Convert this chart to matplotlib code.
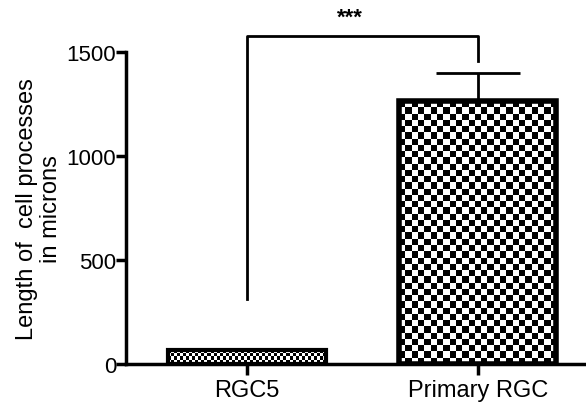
import numpy as np
import matplotlib
matplotlib.use("Agg")
import matplotlib.pyplot as plt

plt.rcParams["font.family"] = ["Liberation Sans", "DejaVu Sans"]

categories = ["RGC5", "Primary RGC"]
values = [68, 1264]
errors = [0, 135]
ylim_max = 1500
yticks = [0, 500, 1000, 1500]
# checkerboard cells per bar (columns, rows)
checker_cells = [(52, 4), (25, 42)]
sig_label = "***"
bracket_y = 1577
bracket_legs = [312, 1457]

fig = plt.figure(figsize=(5.86, 4.06), dpi=100)
ax = fig.add_axes((0.215, 0.101, 0.783, 0.768))

x = np.arange(len(categories))
width = 0.68
edge_widths = [3, 4]
for i, (xi, v) in enumerate(zip(x, values)):
    bar = ax.bar(xi, v, width=width, facecolor="none", edgecolor="black",
                 linewidth=edge_widths[i], zorder=3)[0]
    # checkerboard fill, clipped to the bar outline
    nx, ny = checker_cells[i]
    board = (np.add.outer(np.arange(ny), np.arange(nx)) % 2).astype(float)
    im = ax.imshow(board, cmap="gray", vmin=0, vmax=1, interpolation="nearest",
                   extent=(xi - width / 2, xi + width / 2, 0, v),
                   aspect="auto", zorder=2)
    im.set_clip_path(bar)
    if errors[i]:
        ax.errorbar(xi, v, yerr=[[0], [errors[i]]], fmt="none", ecolor="black",
                    elinewidth=2, capsize=30, capthick=2, zorder=4)

ax.set_xlim(-0.524, 1.463)
ax.set_ylim(0, ylim_max)
ax.set_yticks(yticks)
ax.set_xticks(x)
ax.set_xticklabels(categories, fontsize=17)
ax.tick_params(axis="y", labelsize=16, length=7, width=2.5, pad=0)
ax.tick_params(axis="x", length=8, width=2.5, pad=3)
for s in ["top", "right"]:
    ax.spines[s].set_visible(False)
for s in ["left", "bottom"]:
    ax.spines[s].set_linewidth(2.5)
ax.set_ylabel("Length of  cell processes\nin microns", fontsize=17,
              linespacing=1.15, ha="center", va="center")
ax.yaxis.set_label_coords(-0.19, 0.5)

# significance bracket
ax.plot([x[0], x[0], x[1], x[1]],
        [bracket_legs[0], bracket_y, bracket_y, bracket_legs[1]],
        color="black", linewidth=2, clip_on=False, zorder=5)
ax.text((x[0] + x[1]) / 2 - 0.056, bracket_y + 40, sig_label, ha="center",
        va="bottom", fontsize=16, fontweight="bold")

fig.savefig("out.png", dpi=100)
